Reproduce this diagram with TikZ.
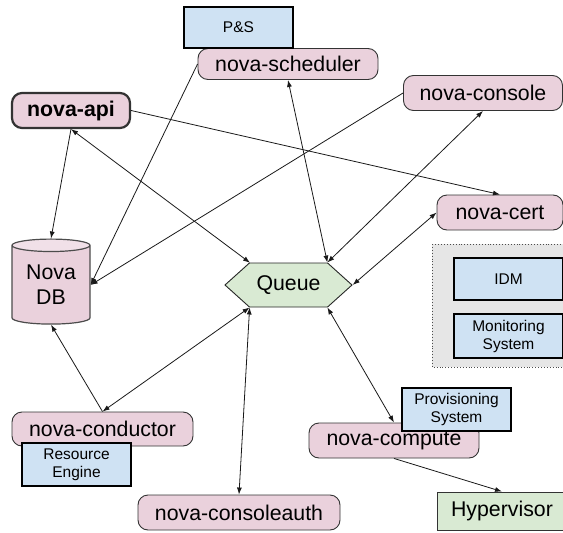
\documentclass[tikz,border=0pt]{standalone}
\usepackage{fontspec}
\setmainfont{Liberation Sans}
\usetikzlibrary{positioning,shapes,arrows.meta}

\definecolor{service pink}{HTML}{EAD1DC}
\definecolor{service top}{HTML}{F1E0E8}
\definecolor{part blue}{HTML}{CFE2F3}
\definecolor{queue green}{HTML}{D9EAD3}
\definecolor{zone gray}{HTML}{E6E6E6}

\begin{document}
\begin{tikzpicture}[
  x=1pt, y=-1pt,
  >={Latex[length=7pt,width=5pt]},
  link/.style={
    line width=0.8pt,
    draw=black!90
  },
  service/.style={
    rectangle,
    rounded corners=10pt,
    fill=service pink,
    draw=black!80,
    line width=0.9pt,
    minimum height=35pt,
    inner sep=0pt,
    font=\fontsize{21.3}{24}\selectfont
  },
  part/.style={
    rectangle,
    fill=part blue,
    draw=black,
    line width=2.4pt,
    minimum height=43pt, minimum width=109pt,
    inner sep=0pt,
    align=center,
    font=\fontsize{15.5}{18}\selectfont
  },
  database/.style={
    cylinder,
    shape border rotate=90,
    aspect=0.25,
    cylinder uses custom fill,
    cylinder body fill=service pink,
    cylinder end fill=service top,
    draw=black!70,
    line width=1.2pt,
    minimum height=85pt, minimum width=78pt,
    inner sep=0pt,
    align=center,
    font=\fontsize{21.3}{25}\selectfont
  },
  queue/.style={
    signal,
    signal to=east and west,
    signal pointer angle=84,
    fill=queue green,
    draw=black!85,
    line width=0.9pt,
    minimum height=44pt, minimum width=127pt,
    inner sep=0pt,
    font=\fontsize{21.3}{24}\selectfont
  },
  host/.style={
    rectangle,
    fill=queue green,
    draw=black!80,
    line width=0.9pt,
    minimum height=38pt, minimum width=130pt,
    inner sep=0pt,
    font=\fontsize{21.3}{24}\selectfont
  }
  ]
\useasboundingbox (0,0) rectangle (563,533);
% Queue
\node [queue] (queue) at (288.5,285) {Queue};
% Database
\node [database] (nova db) at (51,285) {Nova\\DB};
% Services
\node [service, minimum width=180pt, minimum height=31pt] (nova scheduler) at (288,64) {nova-scheduler};
\node [part, minimum height=41pt] (pands) at (238.5,27.5) {P\&S};
\node [service, minimum width=159pt] (nova console) at (483,93) {nova-console};
\node [service, line width=2.2pt, font=\fontsize{21.3}{24}\selectfont\bfseries, minimum width=118pt] (nova api) at (71,110.5) {nova-api};
\node [service, minimum width=126pt] (nova cert) at (500,212.5) {nova-cert};
\node [service, minimum width=181pt, minimum height=34pt] (nova conductor) at (102.5,429) {nova-conductor};
\node [part] (resource engine) at (76.5,464.5) {Resource\\Engine};
\node [service, minimum width=170pt] (nova compute) at (394,440.5) {nova-compute};
\node [part] (provisioning) at (456.5,409.5) {Provisioning\\System};
\node [service, minimum width=202pt] (nova consoleauth) at (239,512.5) {nova-consoleauth};
% Hypervisor
\node [host] (hypervisor) at (502,511) {Hypervisor};
% Outside systems
\draw[dotted, line width=0.9pt, draw=black!70, fill=zone gray] (432,244) rectangle (575,367);
\node [part, minimum height=42pt] (idm) at (508.5,279) {IDM};
\node [part, minimum height=44pt] (monitoring) at (508.5,336) {Monitoring\\System};
% Links
\draw[link, ->] (nova api.south) -- (nova db.north);
\draw[link, <->] (nova api.south) -- (queue.150);
\draw[link, ->] (nova api.east) -- (nova cert.north);
\draw[link, ->] (nova scheduler.west) -- (nova db.east);
\draw[link, ->] (nova console.west) -- (nova db.east);
\draw[link, <->] (nova scheduler.south) -- (queue.30);
\draw[link, <->] (nova console.south) -- (queue.30);
\draw[link, <->] (nova cert.west) -- (queue.east);
\draw[link, <->] (queue.-30) -- (nova compute.north);
\draw[link, <->] (queue.-150) -- (nova conductor.north);
\draw[link, <->] (queue.-150) -- (nova consoleauth.north);
\draw[link, ->] (nova conductor.north) -- (nova db.south);
\draw[link, ->] (nova compute.south) -- (hypervisor.north);
\end{tikzpicture}
\end{document}
